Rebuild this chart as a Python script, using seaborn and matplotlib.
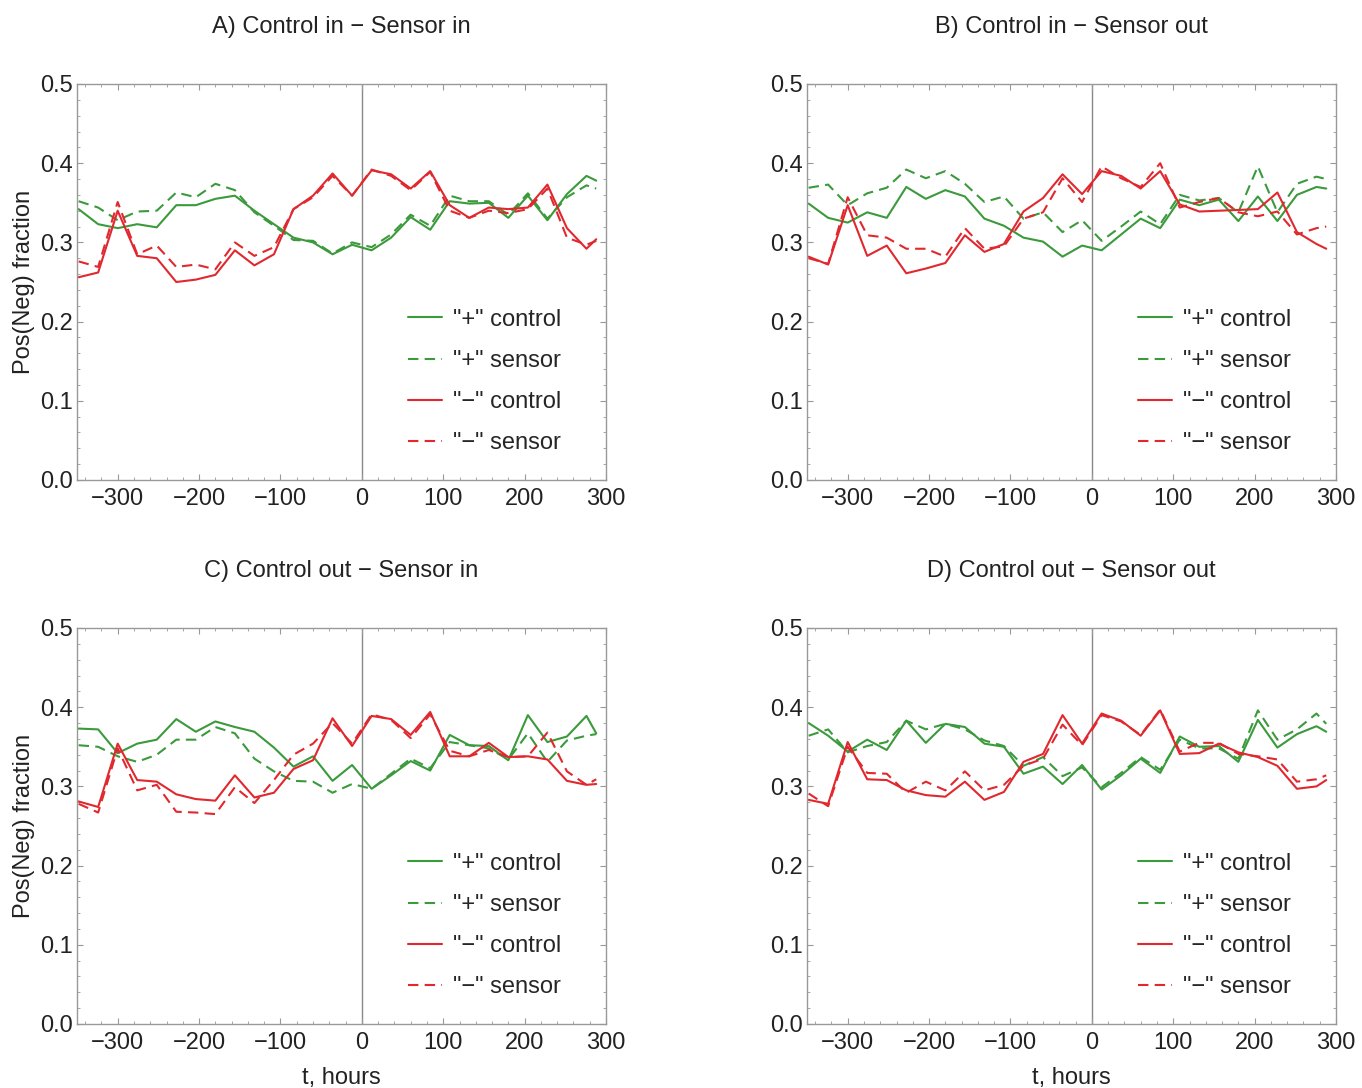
import numpy as np
import pandas as pd
import matplotlib
matplotlib.use("Agg")
import matplotlib.pyplot as plt
from matplotlib.ticker import MultipleLocator, FormatStrFormatter
import seaborn as sns

# time axis (hours), 24 h bins, last bin partial
hours = [-348, -324, -300, -276, -252, -228, -204, -180, -156, -132, -108, -84, -60, -36,
         -12, 12, 36, 60, 84, 108, 132, 156, 180, 204, 228, 252, 276, 288]

titles = ["A) Control in \u2212 Sensor in", "B) Control in \u2212 Sensor out",
          "C) Control out \u2212 Sensor in", "D) Control out \u2212 Sensor out"]

labels = ['"+" control', '"+" sensor', '"\u2212" control', '"\u2212" sensor']

# panel A
a_pos_ctrl = [0.342, 0.323, 0.318, 0.323, 0.319, 0.347, 0.347, 0.355, 0.359, 0.340, 0.323, 0.306, 0.300, 0.285,
              0.297, 0.290, 0.306, 0.332, 0.316, 0.352, 0.349, 0.350, 0.331, 0.359, 0.328, 0.361, 0.384, 0.378]
a_pos_sens = [0.352, 0.344, 0.328, 0.339, 0.340, 0.363, 0.357, 0.374, 0.366, 0.338, 0.321, 0.303, 0.302, 0.286,
              0.300, 0.294, 0.310, 0.335, 0.321, 0.359, 0.352, 0.352, 0.335, 0.362, 0.330, 0.357, 0.372, 0.368]
a_neg_ctrl = [0.256, 0.262, 0.340, 0.283, 0.280, 0.250, 0.253, 0.259, 0.290, 0.271, 0.285, 0.342, 0.359, 0.387,
              0.359, 0.391, 0.386, 0.368, 0.390, 0.347, 0.331, 0.344, 0.342, 0.344, 0.373, 0.318, 0.292, 0.304]
a_neg_sens = [0.276, 0.269, 0.351, 0.285, 0.296, 0.269, 0.272, 0.266, 0.300, 0.283, 0.294, 0.342, 0.357, 0.384,
              0.359, 0.392, 0.384, 0.366, 0.389, 0.340, 0.331, 0.340, 0.337, 0.342, 0.368, 0.306, 0.297, 0.302]

# panel B
b_pos_ctrl = [0.349, 0.331, 0.325, 0.338, 0.331, 0.370, 0.355, 0.366, 0.358, 0.330, 0.321, 0.306, 0.301, 0.282,
              0.296, 0.290, 0.310, 0.330, 0.318, 0.354, 0.347, 0.354, 0.327, 0.358, 0.327, 0.360, 0.370, 0.368]
b_pos_sens = [0.369, 0.373, 0.347, 0.362, 0.369, 0.392, 0.381, 0.390, 0.374, 0.351, 0.358, 0.330, 0.338, 0.313,
              0.328, 0.302, 0.320, 0.339, 0.323, 0.360, 0.353, 0.356, 0.338, 0.396, 0.338, 0.374, 0.383, 0.380]
b_neg_ctrl = [0.282, 0.272, 0.347, 0.283, 0.296, 0.261, 0.267, 0.274, 0.309, 0.288, 0.298, 0.339, 0.356, 0.386,
              0.361, 0.390, 0.384, 0.368, 0.390, 0.348, 0.339, 0.340, 0.341, 0.342, 0.363, 0.313, 0.298, 0.292]
b_neg_sens = [0.280, 0.273, 0.357, 0.309, 0.306, 0.292, 0.292, 0.282, 0.318, 0.292, 0.295, 0.330, 0.338, 0.381,
              0.351, 0.396, 0.381, 0.370, 0.400, 0.344, 0.351, 0.356, 0.338, 0.333, 0.339, 0.310, 0.318, 0.320]

# panel C
c_pos_ctrl = [0.373, 0.372, 0.342, 0.354, 0.359, 0.385, 0.369, 0.382, 0.375, 0.369, 0.349, 0.325, 0.338, 0.307,
              0.327, 0.297, 0.314, 0.332, 0.320, 0.365, 0.352, 0.351, 0.333, 0.390, 0.356, 0.363, 0.389, 0.367]
c_pos_sens = [0.352, 0.350, 0.338, 0.331, 0.340, 0.359, 0.359, 0.375, 0.367, 0.335, 0.319, 0.307, 0.306, 0.292,
              0.303, 0.297, 0.316, 0.335, 0.323, 0.356, 0.352, 0.348, 0.334, 0.367, 0.331, 0.358, 0.364, 0.366]
c_neg_ctrl = [0.281, 0.274, 0.354, 0.308, 0.306, 0.290, 0.284, 0.282, 0.314, 0.286, 0.292, 0.322, 0.333, 0.386,
              0.351, 0.389, 0.385, 0.365, 0.394, 0.338, 0.338, 0.355, 0.337, 0.338, 0.334, 0.307, 0.302, 0.303]
c_neg_sens = [0.278, 0.267, 0.348, 0.295, 0.302, 0.268, 0.267, 0.265, 0.299, 0.279, 0.308, 0.340, 0.354, 0.380,
              0.354, 0.391, 0.384, 0.361, 0.391, 0.345, 0.338, 0.346, 0.337, 0.338, 0.368, 0.319, 0.302, 0.309]

# panel D
d_pos_ctrl = [0.380, 0.364, 0.344, 0.359, 0.346, 0.383, 0.355, 0.379, 0.375, 0.354, 0.350, 0.316, 0.325, 0.303,
              0.327, 0.296, 0.314, 0.335, 0.317, 0.363, 0.350, 0.351, 0.331, 0.384, 0.349, 0.366, 0.376, 0.369]
d_pos_sens = [0.364, 0.372, 0.343, 0.351, 0.356, 0.383, 0.372, 0.379, 0.372, 0.358, 0.351, 0.326, 0.337, 0.313,
              0.324, 0.299, 0.317, 0.337, 0.321, 0.359, 0.348, 0.348, 0.335, 0.396, 0.359, 0.372, 0.392, 0.379]
d_neg_ctrl = [0.283, 0.278, 0.356, 0.309, 0.308, 0.295, 0.289, 0.287, 0.306, 0.283, 0.293, 0.331, 0.341, 0.390,
              0.354, 0.392, 0.383, 0.364, 0.396, 0.341, 0.342, 0.354, 0.343, 0.337, 0.326, 0.297, 0.300, 0.308]
d_neg_sens = [0.291, 0.275, 0.350, 0.317, 0.316, 0.292, 0.306, 0.295, 0.319, 0.295, 0.302, 0.326, 0.335, 0.378,
              0.352, 0.390, 0.382, 0.365, 0.397, 0.344, 0.355, 0.355, 0.341, 0.338, 0.334, 0.306, 0.309, 0.314]

panels = [
    (a_pos_ctrl, a_pos_sens, a_neg_ctrl, a_neg_sens),
    (b_pos_ctrl, b_pos_sens, b_neg_ctrl, b_neg_sens),
    (c_pos_ctrl, c_pos_sens, c_neg_ctrl, c_neg_sens),
    (d_pos_ctrl, d_pos_sens, d_neg_ctrl, d_neg_sens),
]

green = "#3b9a3b"
red = "#e0282e"
palette = {labels[0]: green, labels[1]: green, labels[2]: red, labels[3]: red}
dashes = {labels[0]: "", labels[1]: (5, 3), labels[2]: "", labels[3]: (5, 3)}

sns.set_style("ticks")
plt.rcParams["font.family"] = ["Liberation Sans", "DejaVu Sans"]
plt.rcParams["axes.unicode_minus"] = True

FS = 17
fig = plt.figure(figsize=(13.62, 10.88), dpi=100)
W, H = 1362.0, 1088.0
# axes boxes in pixel coords: left, right, top, bottom
boxes = [(77, 606, 84, 480), (807, 1336, 84, 480),
         (77, 606, 628, 1024), (807, 1336, 628, 1024)]

for i, (series, title, box) in enumerate(zip(panels, titles, boxes)):
    l, r, t, b = box
    ax = fig.add_axes([l / W, 1 - b / H, (r - l) / W, (b - t) / H])
    df = pd.DataFrame({
        "t": hours * 4,
        "value": series[0] + series[1] + series[2] + series[3],
        "series": [labels[0]] * len(hours) + [labels[1]] * len(hours)
                  + [labels[2]] * len(hours) + [labels[3]] * len(hours),
    })
    sns.lineplot(data=df, x="t", y="value", hue="series", style="series",
                 palette=palette, dashes=dashes, linewidth=1.5, ax=ax)
    ax.axvline(0, color="#888888", linewidth=1.0, zorder=0)

    ax.set_xlim(-350, 300)
    ax.set_ylim(0, 0.5)
    ax.xaxis.set_major_locator(MultipleLocator(100))
    ax.xaxis.set_minor_locator(MultipleLocator(20))
    ax.yaxis.set_major_locator(MultipleLocator(0.1))
    ax.yaxis.set_minor_locator(MultipleLocator(0.02))
    ax.yaxis.set_major_formatter(FormatStrFormatter("%.1f"))
    ax.tick_params(which="both", direction="in", top=True, right=True,
                   colors="#999999", labelcolor="#222222", labelsize=FS)
    ax.tick_params(which="major", length=4, width=0.8)
    ax.tick_params(which="minor", length=2.5, width=0.6)
    ax.tick_params(axis="x", which="major", pad=6)
    ax.tick_params(axis="y", which="major", pad=3)
    for sp in ax.spines.values():
        sp.set_color("#999999")
        sp.set_linewidth(1.0)

    ax.set_title(title, fontsize=FS, color="#222222", pad=37)
    ax.set_xlabel("t, hours" if i >= 2 else "", fontsize=FS, color="#222222", labelpad=9)
    ax.set_ylabel("Pos(Neg) fraction" if i % 2 == 0 else "", fontsize=FS,
                  color="#222222", labelpad=4)

    handles, labs = ax.get_legend_handles_labels()
    ax.legend(handles, labs, loc="center left", bbox_to_anchor=(0.626, 0.249),
              frameon=False, fontsize=FS, handlelength=1.45, handletextpad=0.47,
              labelspacing=0.81, borderpad=0, borderaxespad=0)

fig.savefig("out.png", dpi=100)
